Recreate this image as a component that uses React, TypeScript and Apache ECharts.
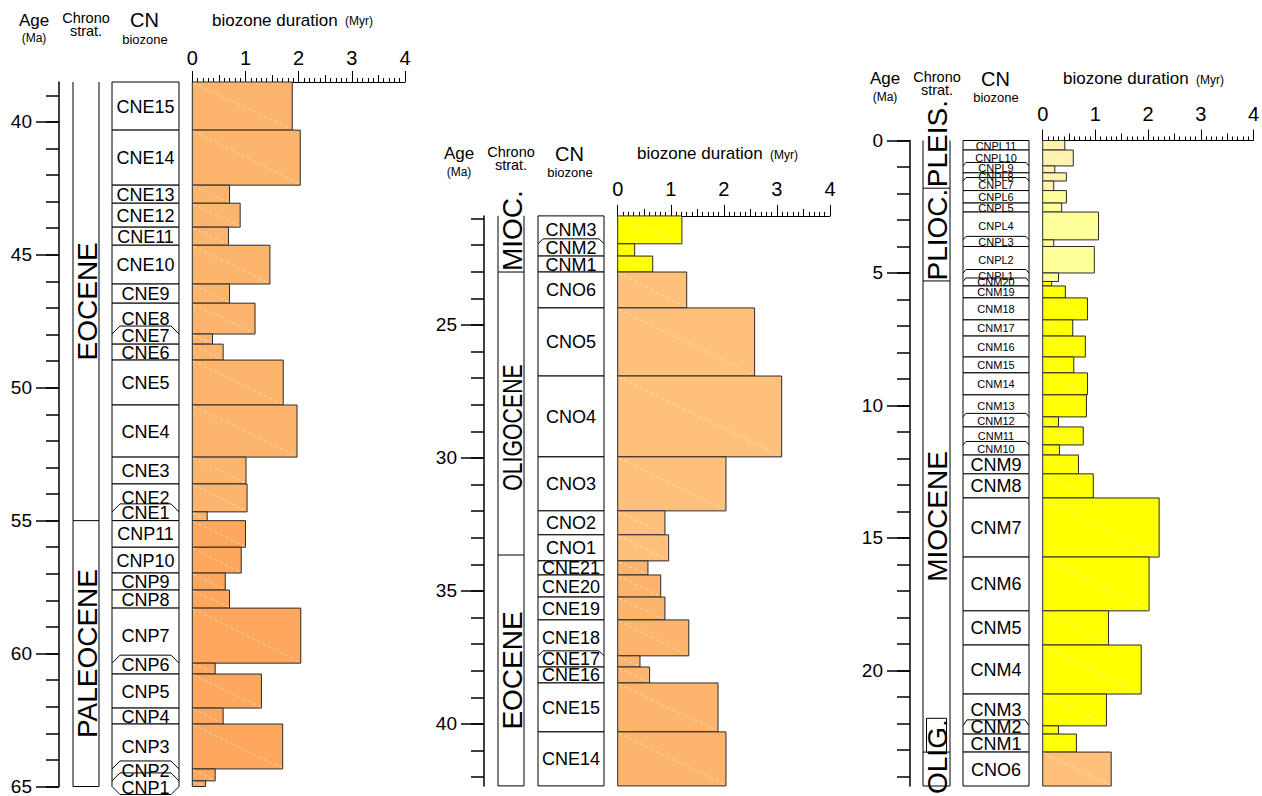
import React, { useEffect, useRef } from "react";
import * as echarts from "echarts";

const FONT = "'Liberation Sans', Arial, Helvetica, sans-serif";

// ---------------- Left panel (Eocene – Paleocene) ----------------
const leftZones = ["CNE15", "CNE14", "CNE13", "CNE12", "CNE11", "CNE10", "CNE9", "CNE8", "CNE7", "CNE6", "CNE5", "CNE4", "CNE3", "CNE2", "CNE1", "CNP11", "CNP10", "CNP9", "CNP8", "CNP7", "CNP6", "CNP5", "CNP4", "CNP3", "CNP2", "CNP1"];
const leftTops = [38.5, 40.31, 42.38, 43.06, 43.96, 44.64, 46.1, 46.82, 47.98, 48.36, 48.96, 50.65, 52.61, 53.62, 54.67, 55.0, 56.0, 56.97, 57.61, 58.29, 60.36, 60.77, 62.05, 62.65, 64.34, 64.79];
const leftBase = 65;
const leftDurations = [1.88, 2.03, 0.7, 0.9, 0.68, 1.46, 0.7, 1.18, 0.38, 0.58, 1.71, 1.97, 1.01, 1.03, 0.28, 1.0, 0.92, 0.62, 0.7, 2.04, 0.43, 1.3, 0.58, 1.7, 0.43, 0.25];
const leftEpochs = ["EOCENE", "PALEOCENE"];
const leftEpochTops = [38.5, 55.0];
const leftAgeTicks = [40, 45, 50, 55, 60, 65];
const leftBracketed = ["CNE7", "CNE1", "CNP6", "CNP2", "CNP1"];

// ---------------- Middle panel (Miocene – Eocene) ----------------
const midZones = ["CNM3", "CNM2", "CNM1", "CNO6", "CNO5", "CNO4", "CNO3", "CNO2", "CNO1", "CNE21", "CNE20", "CNE19", "CNE18", "CNE17", "CNE16", "CNE15", "CNE14"];
const midTops = [20.9, 21.95, 22.41, 23.01, 24.36, 26.92, 29.96, 31.99, 32.89, 33.87, 34.4, 35.23, 36.09, 37.44, 37.86, 38.46, 40.3];
const midBase = 42.33;
const midDurations = [1.21, 0.32, 0.66, 1.3, 2.58, 3.09, 2.04, 0.89, 0.96, 0.57, 0.81, 0.89, 1.34, 0.42, 0.6, 1.89, 2.04];
const midEpochs = ["MIOC.", "OLIGOCENE", "EOCENE"];
const midEpochTops = [20.9, 23.01, 33.65];
const midAgeTicks = [25, 30, 35, 40];
const midBracketed = ["CNM2", "CNE17"];

// ---------------- Right panel (Pleistocene – Oligocene) ----------------
const rightZones = ["CNPL11", "CNPL10", "CNPL9", "CNPL8", "CNPL7", "CNPL6", "CNPL5", "CNPL4", "CNPL3", "CNPL2", "CNPL1", "CNM20", "CNM19", "CNM18", "CNM17", "CNM16", "CNM15", "CNM14", "CNM13", "CNM12", "CNM11", "CNM10", "CNM9", "CNM8", "CNM7", "CNM6", "CNM5", "CNM4", "CNM3", "CNM2", "CNM1", "CNO6"];
const rightTops = [0, 0.36, 0.96, 1.22, 1.53, 1.89, 2.36, 2.7, 3.75, 4.0, 5.0, 5.32, 5.49, 5.94, 6.77, 7.38, 8.17, 8.77, 9.6, 10.43, 10.81, 11.49, 11.87, 12.58, 13.49, 15.72, 17.75, 19.04, 20.89, 22.09, 22.4, 23.08];
const rightBase = 24.36;
const rightDurations = [0.42, 0.58, 0.23, 0.45, 0.21, 0.45, 0.36, 1.06, 0.21, 0.98, 0.3, 0.17, 0.43, 0.85, 0.57, 0.81, 0.59, 0.85, 0.83, 0.3, 0.77, 0.32, 0.68, 0.96, 2.21, 2.02, 1.25, 1.87, 1.21, 0.3, 0.64, 1.3];
const rightEpochs = ["PLEIS.", "PLIOC.", "MIOCENE", "OLIG."];
const rightEpochTops = [0, 1.8, 5.3, 23.08];
const rightAgeTicks = [0, 5, 10, 15, 20];
const rightBracketed = ["CNPL9", "CNPL7", "CNPL3", "CNPL1", "CNM20", "CNM12", "CNM10", "CNM2"];
const rightSmallLabels = ["CNPL11", "CNPL10", "CNPL9", "CNPL8", "CNPL7", "CNPL6", "CNPL5", "CNPL4", "CNPL3", "CNPL2", "CNPL1", "CNM20", "CNM19", "CNM18", "CNM17", "CNM16", "CNM15", "CNM14", "CNM13", "CNM12", "CNM11", "CNM10"];

// duration axis tick labels (Myr)
const durationTicks = [0, 1, 2, 3, 4];

// ICS epoch colours
const epochColors: Record<string, string> = {
  "PLEIS.": "#FFF2AE",
  "PLIOC.": "#FFFF99",
  "MIOC.": "#FFFF00",
  MIOCENE: "#FFFF00",
  OLIGOCENE: "#FEC07A",
  "OLIG.": "#FEC07A",
  EOCENE: "#FDB46C",
  PALEOCENE: "#FDA75F",
};

// typographic tweaks of the epoch labels (stretch along the text, shift in px)
const chronoLabelTweaks: Record<string, { stretch: number; shift: number }> = {
  OLIGOCENE: { stretch: 0.76, shift: 14 },
};

type Layout = {
  axisX: number; chronoL: number; chronoR: number; cnL: number; cnR: number;
  bar0: number; bar4: number; top: number; bottom: number; xLabelMargin: number;
  bigRaise: number; bigInset: number;
};

type Panel = {
  zones: string[]; tops: number[]; base: number; durs: number[];
  epochs: string[]; epochTops: number[]; ageTicks: number[];
  bracketed: string[]; small: string[]; lay: Layout;
};

const panels: Panel[] = [
  {
    zones: leftZones, tops: leftTops, base: leftBase, durs: leftDurations,
    epochs: leftEpochs, epochTops: leftEpochTops, ageTicks: leftAgeTicks,
    bracketed: leftBracketed, small: [],
    lay: { axisX: 59, chronoL: 73, chronoR: 99, cnL: 112, cnR: 179, bar0: 192.3, bar4: 405, top: 82, bottom: 786.9, xLabelMargin: 14, bigRaise: 8, bigInset: 8 },
  },
  {
    zones: midZones, tops: midTops, base: midBase, durs: midDurations,
    epochs: midEpochs, epochTops: midEpochTops, ageTicks: midAgeTicks,
    bracketed: midBracketed, small: [],
    lay: { axisX: 484, chronoL: 498, chronoR: 524, cnL: 538, cnR: 604, bar0: 617.7, bar4: 830, top: 215.9, bottom: 785.9, xLabelMargin: 17, bigRaise: 5, bigInset: 5 },
  },
  {
    zones: rightZones, tops: rightTops, base: rightBase, durs: rightDurations,
    epochs: rightEpochs, epochTops: rightEpochTops, ageTicks: rightAgeTicks,
    bracketed: rightBracketed, small: rightSmallLabels,
    lay: { axisX: 910, chronoL: 923, chronoR: 950, cnL: 963, cnR: 1029, bar0: 1042.7, bar4: 1255.5, top: 140.5, bottom: 786, xLabelMargin: 17, bigRaise: 6, bigInset: 4 },
  },
];

// header texts, positioned relative to the left panel (shifted per panel)
const headerItems = [
  { text: "Age", x: 34, y: 20, size: 17, align: "center" },
  { text: "(Ma)", x: 34, y: 38, size: 12, align: "center" },
  { text: "Chrono", x: 86, y: 18, size: 14.5, align: "center" },
  { text: "strat.", x: 86, y: 31, size: 14.5, align: "center" },
  { text: "CN", x: 144.5, y: 20, size: 20, align: "center" },
  { text: "biozone", x: 145, y: 39, size: 13, align: "center" },
  { text: "biozone duration", x: 212, y: 20, size: 17, align: "left" },
  { text: "(Myr)", x: 345, y: 21, size: 12, align: "left" },
];

let measureCtx: CanvasRenderingContext2D | null = null;
function measure(text: string, size: number): number {
  if (!measureCtx) measureCtx = document.createElement("canvas").getContext("2d");
  if (!measureCtx) return text.length * size * 0.65;
  measureCtx.font = `${size}px ${FONT}`;
  return measureCtx.measureText(text).width;
}

function buildOption() {
  const grid: any[] = [];
  const xAxis: any[] = [];
  const yAxis: any[] = [];
  const series: any[] = [];
  const graphic: any[] = [];

  panels.forEach((P, p) => {
    const L = P.lay;
    const ageMin = P.tops[0];
    const ageMax = P.base;
    const bases = P.tops.map((t, i) => (i < P.tops.length - 1 ? P.tops[i + 1] : P.base));
    const epochBases = P.epochTops.map((t, k) => (k < P.epochTops.length - 1 ? P.epochTops[k + 1] : P.base));
    const epochIndexOf = (mid: number) => {
      let e = 0;
      for (let k = 0; k < P.epochTops.length; k++) if (mid >= P.epochTops[k]) e = k;
      return e;
    };

    grid.push({ left: L.bar0, top: L.top, width: L.bar4 - L.bar0, height: L.bottom - L.top, containLabel: false });

    xAxis.push({
      gridIndex: p, type: "value", min: 0, max: 4, interval: 1, position: "top",
      axisLine: { show: true, onZero: false, lineStyle: { color: "#000", width: 1 } },
      axisTick: { show: true, length: 11, lineStyle: { color: "#000", width: 1 } },
      minorTick: { show: true, splitNumber: 10, length: 4, lineStyle: { color: "#000", width: 1 } },
      axisLabel: { show: true, customValues: durationTicks, margin: L.xLabelMargin, fontSize: 20, color: "#000", fontFamily: FONT },
      splitLine: { show: false }, minorSplitLine: { show: false },
    });
    xAxis.push({
      gridIndex: p, type: "value", min: 0, max: 4, interval: 0.5, position: "top",
      axisLine: { show: false, onZero: false },
      axisTick: { show: true, length: 7, lineStyle: { color: "#000", width: 1 } },
      axisLabel: { show: false }, splitLine: { show: false },
    });

    const minors: number[] = [];
    for (let a = Math.ceil(ageMin); a <= Math.floor(ageMax); a++) minors.push(a);

    yAxis.push({
      gridIndex: p, type: "value", min: ageMin, max: ageMax, inverse: true, position: "left",
      offset: L.bar0 - L.axisX,
      axisLine: { show: true, onZero: false, lineStyle: { color: "#000", width: 1.5 } },
      axisTick: { show: true, customValues: P.ageTicks, length: 23, lineStyle: { color: "#000", width: 1.5 } },
      axisLabel: { show: true, customValues: P.ageTicks, margin: 27, fontSize: 19, color: "#000", fontFamily: FONT },
      splitLine: { show: false },
    });
    yAxis.push({
      gridIndex: p, type: "value", min: ageMin, max: ageMax, inverse: true, position: "left",
      offset: L.bar0 - L.axisX,
      axisLine: { show: false, onZero: false },
      axisTick: { show: true, customValues: minors, length: 13, lineStyle: { color: "#000", width: 1.5 } },
      axisLabel: { show: false },
      splitLine: { show: false },
    });

    const xi = 2 * p;
    const yi = 2 * p;

    // chronostratigraphic column
    series.push({
      type: "custom", xAxisIndex: xi, yAxisIndex: yi, clip: false, silent: true, z: 1,
      data: P.epochs.map((e, k) => [P.epochTops[k], epochBases[k], k]),
      renderItem: (params: any, api: any) => {
        const k = api.value(2);
        const yT = api.coord([0, api.value(0)])[1];
        const yB = api.coord([0, api.value(1)])[1];
        const xl = L.chronoL;
        const xr = L.chronoR;
        const cx = (xl + xr) / 2;
        const name = P.epochs[k];
        const size = 28;
        const tw = chronoLabelTweaks[name] || { stretch: 1, shift: 0 };
        const len = measure(name, size) * tw.stretch;
        const h = yB - yT;
        const overflow = len > h + 4;
        const children: any[] = [
          { type: "polyline", shape: { points: [[xl, yT], [xl, yB], [xr, yB], [xr, yT]] }, style: { stroke: "#000", lineWidth: 1, fill: null } },
        ];
        let anchorY = (yT + yB) / 2 + tw.shift;
        if (overflow) {
          if (k > 0) {
            // label reaches into the epoch above: white frame behind its upper part
            anchorY = yB + 8;
            const textTop = anchorY - len;
            children.push({ type: "rect", shape: { x: cx - 10, y: textTop - 1, width: 20, height: yT - textTop + 1 }, style: { fill: "#fff", stroke: "#000", lineWidth: 1 } });
          } else {
            anchorY = yB - 1;
          }
        }
        children.push({
          type: "text", x: cx + 1, y: anchorY, rotation: Math.PI / 2, scaleX: tw.stretch, scaleY: 1,
          style: { text: name, fontSize: size, fontFamily: FONT, fill: "#000", align: overflow ? "left" : "center", verticalAlign: "middle" },
        });
        return { type: "group", children };
      },
    });

    // CN biozone boxes
    series.push({
      type: "custom", xAxisIndex: xi, yAxisIndex: yi, clip: false, silent: true, z: 2,
      data: P.zones.map((z, i) => [P.tops[i], bases[i], i]),
      renderItem: (params: any, api: any) => {
        const i = api.value(2);
        const name = P.zones[i];
        const yT = api.coord([0, api.value(0)])[1];
        const yB = api.coord([0, api.value(1)])[1];
        const small = P.small.includes(name);
        const br = P.bracketed.includes(name);
        const brBot = br && i === P.zones.length - 1;
        const raise = small ? 3.5 : L.bigRaise;
        const inset = small ? 3 : L.bigInset;
        const Lx = L.cnL;
        const Rx = L.cnR;
        const pts: number[][] = [[Lx, yB], [Lx, yT]];
        if (br) { pts.push([Lx + inset, yT - raise]); pts.push([Rx - inset, yT - raise]); }
        pts.push([Rx, yT]);
        pts.push([Rx, yB]);
        if (brBot) { pts.push([Rx - inset, yB + raise]); pts.push([Lx + inset, yB + raise]); }
        return { type: "polygon", shape: { points: pts }, style: { fill: "#fff", stroke: "#000", lineWidth: 1 } };
      },
    });

    // biozone labels
    series.push({
      type: "custom", xAxisIndex: xi, yAxisIndex: yi, clip: false, silent: true, z: 3,
      data: P.zones.map((z, i) => [P.tops[i], bases[i], i]),
      renderItem: (params: any, api: any) => {
        const i = api.value(2);
        const name = P.zones[i];
        const yT = api.coord([0, api.value(0)])[1];
        const yB = api.coord([0, api.value(1)])[1];
        const small = P.small.includes(name);
        const br = P.bracketed.includes(name);
        const brBot = br && i === P.zones.length - 1;
        const raise = small ? 3.5 : L.bigRaise;
        const top = brBot ? yT : yT - (br ? raise : 0);
        const bot = yB + (brBot ? raise : 0);
        return {
          type: "text",
          x: (L.cnL + L.cnR) / 2,
          y: (top + bot) / 2 + 0.5,
          style: { text: name, fontSize: small ? 11 : 18, fontFamily: FONT, fill: "#000", align: "center", verticalAlign: "middle" },
        };
      },
    });

    // duration bars
    series.push({
      type: "custom", xAxisIndex: xi, yAxisIndex: yi, clip: false, silent: true, z: 2,
      data: P.zones.map((z, i) => [P.tops[i], bases[i], P.durs[i], epochIndexOf((P.tops[i] + bases[i]) / 2)]),
      renderItem: (params: any, api: any) => {
        const p0 = api.coord([0, api.value(0)]);
        const p1 = api.coord([api.value(2), api.value(1)]);
        const color = epochColors[P.epochs[api.value(3)]];
        const x = p0[0];
        const y = p0[1];
        const w = p1[0] - p0[0];
        const h = p1[1] - p0[1];
        return {
          type: "group",
          children: [
            { type: "rect", shape: { x, y, width: w, height: h }, style: { fill: color, stroke: "#2a2a2a", lineWidth: 1 } },
            { type: "line", shape: { x1: x + 1, y1: y + 1, x2: x + w - 1, y2: y + h - 1 }, style: { stroke: "rgba(255,255,255,0.5)", lineWidth: 1, lineDash: [3, 3] } },
          ],
        };
      },
    });

    // headers
    const dx = L.axisX - 59;
    const dy = L.top - 82;
    headerItems.forEach((hI) => {
      graphic.push({
        type: "text", x: hI.x + dx, y: hI.y + dy, silent: true,
        style: {
          text: hI.text, fontSize: hI.size, fontFamily: FONT, fill: "#000",
          align: hI.align, verticalAlign: "middle", textAlign: hI.align, textVerticalAlign: "middle",
        },
      });
    });
  });

  return { animation: false, backgroundColor: "#fff", grid, xAxis, yAxis, series, graphic };
}

export default function App() {
  const ref = useRef<HTMLDivElement | null>(null);
  useEffect(() => {
    if (!ref.current) return;
    const chart = echarts.init(ref.current, undefined, { renderer: "svg" });
    chart.setOption(buildOption() as any);
    return () => chart.dispose();
  }, []);
  return <div ref={ref} style={{ position: "fixed", left: 0, top: 0, width: 1262, height: 796, background: "#fff" }} />;
}
